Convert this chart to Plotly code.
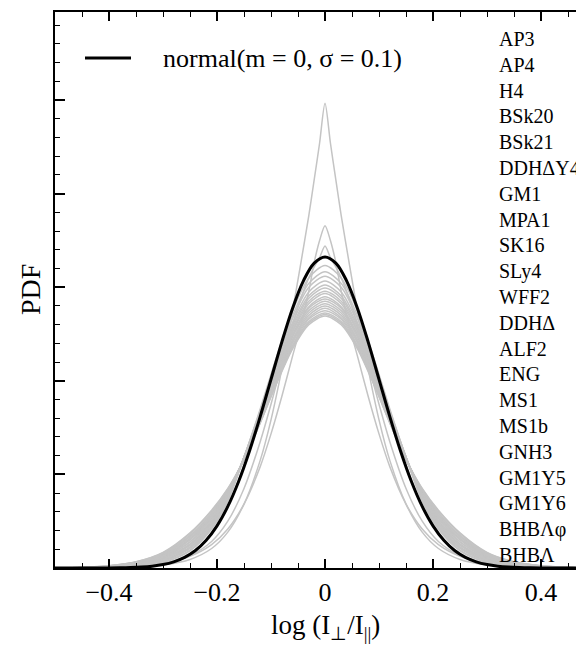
import plotly.graph_objects as go

# ---------------- data ----------------
# reference normal curve, m = 0, sigma = 0.1
normal_x = [-0.50, -0.48, -0.46, -0.44, -0.42, -0.40, -0.38, -0.36, -0.34, -0.32, -0.30, -0.28, -0.26,
            -0.24, -0.22, -0.20, -0.18, -0.16, -0.14, -0.12, -0.10, -0.08, -0.06, -0.04, -0.02, 0.00,
            0.02, 0.04, 0.06, 0.08, 0.10, 0.12, 0.14, 0.16, 0.18, 0.20, 0.22, 0.24, 0.26, 0.28, 0.30,
            0.32, 0.34, 0.36, 0.38, 0.40, 0.42, 0.44, 0.46, 0.48, 0.50]
normal_pdf = [0.0, 0.0, 0.0001, 0.0002, 0.0005, 0.0013, 0.0029, 0.0061, 0.0123, 0.0238, 0.0443, 0.0792,
              0.1358, 0.2239, 0.3547, 0.5399, 0.7895, 1.1092, 1.4973, 1.9419, 2.4197, 2.8969, 3.3322,
              3.6827, 3.9104, 3.9894, 3.9104, 3.6827, 3.3322, 2.8969, 2.4197, 1.9419, 1.4973, 1.1092,
              0.7895, 0.5399, 0.3547, 0.2239, 0.1358, 0.0792, 0.0443, 0.0238, 0.0123, 0.0061, 0.0029,
              0.0013, 0.0005, 0.0002, 0.0001, 0.0, 0.0]

# EOS curves (symmetric): half profiles read at |x| grid
x_half_peaked = [0, 0.01, 0.02, 0.03, 0.045, 0.06, 0.08, 0.10, 0.12, 0.15, 0.18, 0.21, 0.25, 0.30,
                 0.35, 0.40, 0.45, 0.50]
peaked_1 = [5.96, 5.45, 4.98, 4.52, 3.90, 3.30, 2.55, 1.90, 1.38, 0.82, 0.46, 0.25, 0.11, 0.04, 0.013,
            0.004, 0.001, 0.0]
peaked_2 = [4.39, 4.20, 3.92, 3.55, 3.10, 2.72, 2.20, 1.72, 1.30, 0.82, 0.50, 0.30, 0.15, 0.055, 0.018,
            0.006, 0.001, 0.0]
peaked_3 = [4.13, 3.98, 3.86, 3.72, 3.45, 3.12, 2.62, 2.10, 1.62, 1.02, 0.60, 0.34, 0.16, 0.06, 0.02,
            0.006, 0.001, 0.0]

x_half_bulk = [0, 0.03, 0.06, 0.09, 0.12, 0.15, 0.18, 0.21, 0.25, 0.30, 0.35, 0.40, 0.45, 0.50]
bulk_01 = [3.88, 3.72, 3.30, 2.70, 2.04, 1.42, 0.86, 0.50, 0.22, 0.070, 0.022, 0.006, 0.001, 0]
bulk_02 = [3.80, 3.65, 3.24, 2.66, 2.02, 1.42, 0.87, 0.51, 0.23, 0.078, 0.025, 0.007, 0.001, 0]
bulk_03 = [3.74, 3.60, 3.20, 2.63, 2.01, 1.42, 0.88, 0.53, 0.25, 0.085, 0.029, 0.009, 0.002, 0]
bulk_04 = [3.68, 3.54, 3.15, 2.60, 1.99, 1.42, 0.89, 0.54, 0.26, 0.093, 0.032, 0.010, 0.002, 0]
bulk_05 = [3.63, 3.49, 3.11, 2.57, 1.98, 1.42, 0.90, 0.56, 0.27, 0.101, 0.036, 0.012, 0.003, 0]
bulk_06 = [3.59, 3.46, 3.08, 2.55, 1.97, 1.42, 0.91, 0.57, 0.29, 0.108, 0.039, 0.013, 0.003, 0]
bulk_07 = [3.55, 3.42, 3.05, 2.53, 1.96, 1.42, 0.92, 0.58, 0.30, 0.116, 0.042, 0.014, 0.003, 0]
bulk_08 = [3.52, 3.39, 3.03, 2.52, 1.95, 1.42, 0.93, 0.60, 0.31, 0.124, 0.046, 0.016, 0.004, 0]
bulk_09 = [3.48, 3.35, 3.00, 2.50, 1.94, 1.41, 0.94, 0.61, 0.33, 0.131, 0.049, 0.017, 0.004, 0]
bulk_10 = [3.45, 3.33, 2.98, 2.48, 1.93, 1.41, 0.94, 0.63, 0.34, 0.139, 0.053, 0.019, 0.005, 0]
bulk_11 = [3.42, 3.30, 2.96, 2.46, 1.92, 1.41, 0.95, 0.64, 0.36, 0.146, 0.056, 0.020, 0.005, 0]
bulk_12 = [3.39, 3.27, 2.93, 2.45, 1.91, 1.40, 0.96, 0.66, 0.37, 0.154, 0.060, 0.022, 0.006, 0]
bulk_13 = [3.36, 3.24, 2.91, 2.43, 1.90, 1.40, 0.97, 0.67, 0.38, 0.162, 0.063, 0.023, 0.006, 0]
bulk_14 = [3.33, 3.21, 2.89, 2.41, 1.89, 1.40, 0.98, 0.68, 0.40, 0.169, 0.066, 0.024, 0.006, 0]
bulk_15 = [3.30, 3.19, 2.86, 2.40, 1.88, 1.40, 0.99, 0.70, 0.41, 0.177, 0.070, 0.026, 0.007, 0]
bulk_16 = [3.27, 3.16, 2.84, 2.38, 1.87, 1.39, 1.00, 0.71, 0.42, 0.185, 0.073, 0.027, 0.007, 0]
bulk_17 = [3.25, 3.14, 2.83, 2.37, 1.86, 1.39, 1.01, 0.73, 0.44, 0.192, 0.077, 0.029, 0.008, 0]
bulk_18 = [3.23, 3.12, 2.81, 2.36, 1.86, 1.39, 1.02, 0.74, 0.45, 0.200, 0.080, 0.030, 0.008, 0]

eos_names = ["AP3", "AP4", "H4", "BSk20", "BSk21", "DDHΔY4", "GM1", "MPA1", "SK16", "SLy4", "WFF2",
             "DDHΔ", "ALF2", "ENG", "MS1", "MS1b", "GNH3", "GM1Y5", "GM1Y6", "BHBΛφ", "BHBΛ"]

legend_label = "normal(m = 0, σ = 0.1)"
x_title = "log (I<sub>⊥</sub>/I<sub>||</sub>)"
y_title = "PDF"

# ---------------- figure ----------------
SERIF = "Liberation Serif, Times New Roman, serif"
W, H = 584, 646
ML, MR, MT, MB = 47, 0, 4, 86
PW, PH = W - ML - MR, H - MT - MB


def px_x(p):
    return (p - ML) / PW


def px_y(p):
    return (H - MB - p) / PH


def mirror(xh, yh):
    xs = [-v for v in reversed(xh[1:])] + list(xh)
    ys = list(reversed(yh[1:])) + list(yh)
    return xs, ys


fig = go.Figure()
gray = "#c4c4c4"
bulk_all = [bulk_18, bulk_17, bulk_16, bulk_15, bulk_14, bulk_13, bulk_12, bulk_11, bulk_10,
            bulk_09, bulk_08, bulk_07, bulk_06, bulk_05, bulk_04, bulk_03, bulk_02, bulk_01]
for xh, yh in ([(x_half_bulk, c) for c in bulk_all]
               + [(x_half_peaked, c) for c in [peaked_3, peaked_2, peaked_1]]):
    xs, ys = mirror(xh, yh)
    fig.add_trace(go.Scatter(x=xs, y=ys, mode="lines",
                             line=dict(color=gray, width=1.5, shape="spline", smoothing=0.8),
                             showlegend=False, hoverinfo="skip"))

fig.add_trace(go.Scatter(x=normal_x, y=normal_pdf, mode="lines", name=legend_label,
                         line=dict(color="black", width=3, shape="spline"), showlegend=False))
# invisible trace on right axis so mirrored ticks are drawn
fig.add_trace(go.Scatter(x=normal_x, y=normal_pdf, yaxis="y2", mode="lines",
                         line=dict(color="rgba(0,0,0,0)", width=0), showlegend=False, hoverinfo="skip"))

axis_common = dict(showgrid=False, zeroline=False, ticks="inside", tickcolor="black", tickwidth=1.5)
fig.update_layout(
    width=W, height=H, margin=dict(l=ML, r=MR, t=MT, b=MB),
    paper_bgcolor="white", plot_bgcolor="white",
    font=dict(family=SERIF, color="black"),
    xaxis=dict(range=[-0.5, 0.4944], tick0=0, dtick=0.2, ticklen=9, showline=True, linewidth=2,
               linecolor="black", mirror="ticks",
               minor=dict(ticks="inside", dtick=0.05, ticklen=5, tickcolor="black", tickwidth=1.2),
               tickfont=dict(family=SERIF, size=26, color="black"), **axis_common),
    yaxis=dict(range=[0, 7.13], tick0=0, dtick=1.2, ticklen=10, showline=True, linewidth=2,
               linecolor="black", showticklabels=False,
               minor=dict(ticks="inside", dtick=0.24, ticklen=5, tickcolor="black", tickwidth=1.2),
               **axis_common),
    yaxis2=dict(range=[0, 7.13], tick0=0, dtick=1.2, ticklen=10, showline=False, overlaying="y",
                side="right", showticklabels=False,
                minor=dict(ticks="inside", dtick=0.24, ticklen=5, tickcolor="black", tickwidth=1.2),
                **axis_common),
)

# legend sample (line + label)
fig.add_shape(type="line", xref="paper", yref="paper", x0=px_x(77), x1=px_x(123), y0=px_y(50),
              y1=px_y(50), line=dict(color="black", width=3))
fig.add_annotation(xref="paper", yref="paper", x=px_x(153), y=px_y(50), text=legend_label,
                   showarrow=False, xanchor="left", yanchor="middle",
                   font=dict(family=SERIF, size=26, color="black"))

# EOS name column
for i, name in enumerate(eos_names):
    fig.add_annotation(xref="paper", yref="paper", x=px_x(489), y=px_y(31 + 25.8 * i), text=name,
                       showarrow=False, xanchor="left", yanchor="middle",
                       font=dict(family=SERIF, size=20, color="black"))

# axis titles
fig.add_annotation(xref="paper", yref="paper", x=px_x(317), y=px_y(619), text=x_title, showarrow=False,
                   xanchor="center", yanchor="middle", font=dict(family=SERIF, size=27, color="black"))
fig.add_annotation(xref="paper", yref="paper", x=px_x(22), y=px_y(282), text=y_title, showarrow=False,
                   textangle=-90, xanchor="center", yanchor="middle",
                   font=dict(family=SERIF, size=28, color="black"))

fig.write_html("out.html")
